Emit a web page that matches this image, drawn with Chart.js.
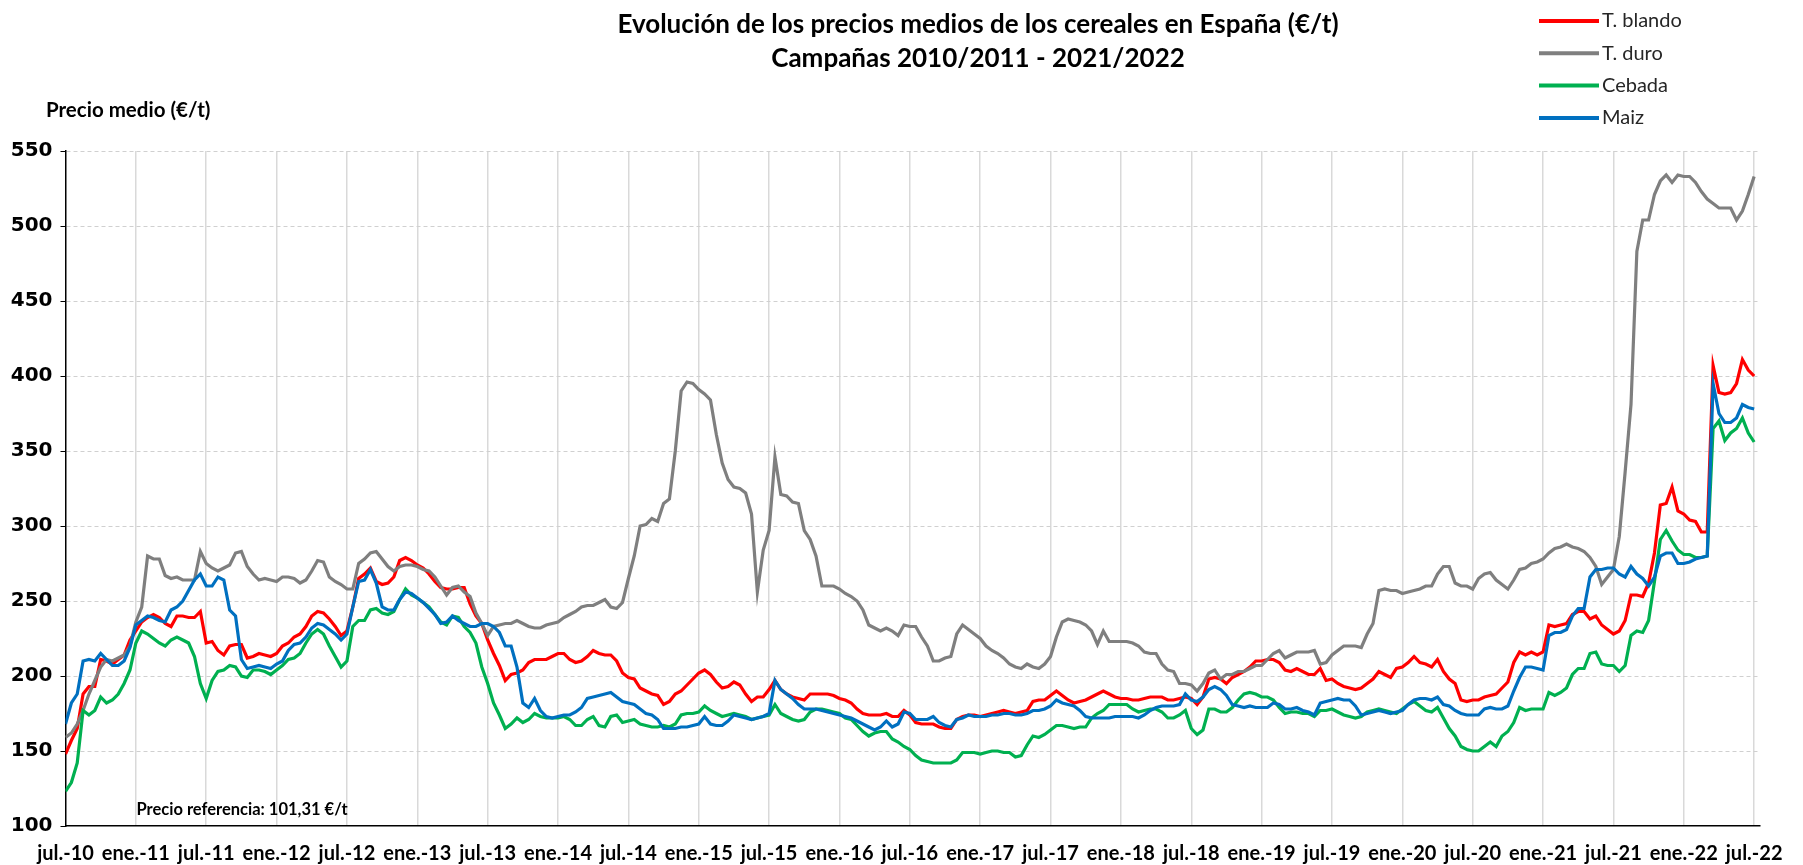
<!DOCTYPE html>
<html>
<head>
<meta charset="utf-8">
<script src="https://cdn.jsdelivr.net/npm/chart.js"></script>
<style>
  body { margin: 0; background: #fff; }
  #caja { width: 1803px; height: 865px; position: relative; }
</style>
</head>
<body>
<div id="caja"><canvas id="grafico"></canvas></div>
<script>
// etiquetas del eje x, una cada 6 meses (jul.-10 ... jul.-22)
const etiquetas = ['jul.-10','ene.-11','jul.-11','ene.-12','jul.-12','ene.-13','jul.-13','ene.-14','jul.-14',
  'ene.-15','jul.-15','ene.-16','jul.-16','ene.-17','jul.-17','ene.-18','jul.-18','ene.-19','jul.-19',
  'ene.-20','jul.-20','ene.-21','jul.-21','ene.-22','jul.-22'];

// precios leidos cada medio mes desde jul.-10 (€/t)
const tBlando = [
  148,157,165,188,193,193,211,210,208,211,214,224,
  230,236,239,241,239,235,233,240,240,239,239,243,
  222,223,217,214,220,221,221,212,213,215,214,213,
  215,220,222,226,228,233,240,243,242,238,233,227,
  230,
  246,265,268,272,263,261,262,266,277,279,277,
  274,272,268,263,259,258,258,259,259,248,240,235,
  224,215,207,197,201,202,204,209,211,211,211,213,
  215,215,211,209,210,213,217,215,214,214,210,202,
  199,
  198,192,190,188,187,181,183,188,190,194,198,
  202,204,201,196,192,193,196,194,188,183,186,186,
  191,197,191,188,186,185,184,188,188,188,188,187,
  185,184,182,178,175,174,174,174,175,173,173,177,
  174,
  169,168,168,168,166,165,165,171,173,174,174,
  173,174,175,176,177,176,175,176,177,183,184,184,
  187,190,187,184,182,183,184,186,188,190,188,186,
  185,185,184,184,185,186,186,186,184,184,185,186,
  185,
  181,186,198,199,198,195,199,201,203,206,210,
  210,211,211,209,204,203,205,203,201,201,205,197,
  198,195,193,192,191,192,195,198,203,201,199,205,
  206,209,213,209,208,206,211,203,198,195,184,183,
  184,
  184,186,187,188,192,196,209,216,214,216,214,
  216,234,233,234,235,241,243,243,238,240,234,231,
  228,230,237,254,254,253,262,282,314,315,326,310,
  308,304,303,296,296,407,389,388,389,395,411,404,
  400
];

const tDuro = [
  159,162,168,177,188,197,206,211,210,212,214,220,
  236,246,280,278,278,267,265,266,264,264,264,283,
  275,272,270,272,274,282,283,273,268,264,265,264,
  263,266,266,265,262,264,270,277,276,266,263,261,
  258,
  258,275,278,282,283,278,273,270,273,274,274,
  273,271,270,266,260,254,259,260,256,253,242,235,
  227,233,234,235,235,237,235,233,232,232,234,235,
  236,239,241,243,246,247,247,249,251,246,245,249,
  265,
  280,300,301,305,303,315,318,350,390,396,395,
  391,388,384,361,342,331,326,325,322,308,256,284,
  297,346,321,320,316,315,297,291,280,260,260,260,
  258,255,253,250,244,234,232,230,232,230,227,234,
  233,
  233,226,220,210,210,212,213,228,234,231,228,
  225,220,217,215,212,208,206,205,208,206,205,208,
  213,226,236,238,237,236,234,230,221,230,223,223,
  223,223,222,220,216,215,215,208,204,203,195,195,
  194,
  190,195,202,204,198,201,201,203,203,205,207,
  207,211,215,217,212,214,216,216,216,217,208,209,
  214,217,220,220,220,219,228,235,257,258,257,257,
  255,256,257,258,260,260,268,273,273,262,260,260,
  258,
  265,268,269,264,261,258,264,271,272,275,276,
  278,282,285,286,288,286,285,283,279,273,261,266,
  271,293,336,381,483,504,504,521,530,534,529,534,
  533,533,529,523,518,515,512,512,512,504,510,521,
  533
];

const cebada = [
  123,129,142,177,174,177,186,182,184,188,195,204,
  222,230,228,225,222,220,224,226,224,222,213,195,
  185,197,203,204,207,206,200,199,204,204,203,201,
  204,207,211,212,215,222,228,231,228,220,213,206,
  210,
  233,237,237,244,245,242,241,243,251,258,254,
  252,249,246,241,236,234,240,239,233,229,222,206,
  195,182,174,165,168,172,169,171,175,173,172,172,
  172,173,171,167,167,171,173,167,166,173,174,169,
  170,
  171,168,167,166,166,167,166,168,174,175,175,
  176,180,177,175,173,174,175,174,173,171,172,173,
  174,181,175,173,171,170,171,176,178,178,177,176,
  175,172,171,167,163,160,162,163,163,158,156,153,
  151,
  147,144,143,142,142,142,142,144,149,149,149,
  148,149,150,150,149,149,146,147,154,160,159,161,
  164,167,167,166,165,166,166,172,175,177,181,181,
  181,181,178,176,177,178,178,176,172,172,174,177,
  165,
  161,164,178,178,176,176,179,184,188,189,188,
  186,186,184,179,175,176,176,175,175,173,177,177,
  178,176,174,173,172,173,176,177,178,177,176,175,
  178,181,183,180,177,176,179,172,165,160,153,151,
  150,
  150,153,156,153,160,163,169,179,177,178,178,
  178,189,187,189,192,201,205,205,215,216,208,207,
  207,203,207,227,230,229,237,263,291,297,290,284,
  281,281,279,279,280,365,370,357,362,365,372,362,
  356
];

const maiz = [
  168,182,188,210,211,210,215,211,207,207,210,219,
  234,237,240,239,237,236,244,246,250,257,264,268,
  260,260,266,264,244,240,211,205,206,207,206,205,
  208,210,217,221,222,226,232,235,234,231,228,224,
  228,
  246,263,264,271,262,246,244,244,251,256,255,
  252,249,245,241,235,236,240,237,235,233,233,235,
  235,233,229,220,220,206,182,179,185,177,173,172,
  173,174,174,176,179,185,186,187,188,189,186,183,
  182,
  181,178,175,174,171,165,165,165,166,166,167,
  168,173,168,167,167,170,174,173,172,171,172,173,
  175,197,191,188,185,181,178,178,178,177,176,175,
  174,173,172,170,168,166,164,166,170,166,168,176,
  175,
  171,171,171,173,169,167,166,171,172,174,173,
  173,173,174,174,175,175,174,174,175,177,177,178,
  180,184,182,181,180,177,173,172,172,172,172,173,
  173,173,173,172,174,177,179,180,180,180,181,188,
  184,
  183,186,191,193,191,187,181,180,179,180,179,
  179,179,182,181,178,178,179,177,176,174,182,183,
  184,185,184,184,180,174,175,176,177,176,175,176,
  177,181,184,185,185,184,186,181,180,177,175,174,
  174,
  174,178,179,178,178,180,190,199,206,206,205,
  204,227,229,229,231,240,245,245,266,271,271,272,
  272,268,266,273,268,265,260,266,280,282,282,275,
  275,276,278,279,280,395,375,369,369,372,381,379,
  378
];

const titulo = ['Evolución de los precios medios de los cereales en España (€/t)', 'Campañas 2010/2011 - 2021/2022'];
const tituloEje = 'Precio medio (€/t)';
const notaReferencia = 'Precio referencia: 101,31 €/t';

const letra = "Lato, 'Open Sans', sans-serif";

// cada valor es medio mes
function puntos(valores) {
  return valores.map((v, i) => ({ x: i * 0.5, y: v }));
}

const textos = {
  id: 'textos',
  afterDraw(chart) {
    const ctx = chart.ctx;
    const area = chart.chartArea;
    ctx.save();
    ctx.fillStyle = '#000';
    ctx.textBaseline = 'middle';

    ctx.textAlign = 'center';
    ctx.font = 'bold 26px ' + letra;
    ctx.fillText(titulo[0], 978, 25);
    ctx.fillText(titulo[1], 978, 59);

    ctx.textAlign = 'left';
    ctx.font = 'bold 20.5px ' + letra;
    ctx.fillText(tituloEje, 46, 110);
    ctx.font = 'bold 16.5px ' + letra;
    ctx.fillText(notaReferencia, area.left + 71, area.bottom - 16);

    // leyenda
    ctx.font = '20px ' + letra;
    chart.data.datasets.forEach((ds, i) => {
      const y = 21 + i * 32.3;
      ctx.strokeStyle = ds.borderColor;
      ctx.lineWidth = 4;
      ctx.beginPath();
      ctx.moveTo(1539, y);
      ctx.lineTo(1599, y);
      ctx.stroke();
      ctx.fillStyle = '#262626';
      ctx.fillText(ds.label, 1602, y);
    });
    ctx.restore();
  }
};

new Chart(document.getElementById('grafico'), {
  type: 'line',
  data: {
    datasets: [
      { label: 'T. blando', data: puntos(tBlando), borderColor: '#ff0000', order: 4 },
      { label: 'T. duro', data: puntos(tDuro), borderColor: '#7f7f7f', order: 3 },
      { label: 'Cebada', data: puntos(cebada), borderColor: '#00b050', order: 2 },
      { label: 'Maiz', data: puntos(maiz), borderColor: '#0070c0', order: 1 }
    ]
  },
  options: {
    responsive: true,
    maintainAspectRatio: false,
    animation: false,
    layout: { padding: { top: 151, right: 43, left: 0, bottom: 0 } },
    elements: {
      point: { radius: 0 },
      line: { borderWidth: 3.2, tension: 0 }
    },
    plugins: {
      legend: { display: false },
      title: { display: false },
      tooltip: { enabled: false }
    },
    scales: {
      x: {
        type: 'linear',
        min: 0,
        max: 144.5,
        afterFit(s) { s.height = 39; },
        // una marca cada 6 meses
        afterBuildTicks(s) { s.ticks = etiquetas.map((e, i) => ({ value: i * 6 })); },
        ticks: {
          autoSkip: false,
          maxRotation: 0,
          padding: 16,
          color: '#000',
          font: { family: letra, weight: 'bold', size: 20 },
          callback: (v) => etiquetas[v / 6]
        },
        grid: {
          drawTicks: false,
          lineWidth: 1.5,
          color: (c) => (c.tick && c.tick.value === 0 ? 'rgba(0,0,0,0)' : '#d9d9d9')
        },
        border: { color: '#000', width: 1.5 }
      },
      y: {
        min: 100,
        max: 550,
        afterFit(s) { s.width = 65.5; },
        ticks: {
          stepSize: 50,
          padding: 8,
          color: '#000',
          font: { family: "'DejaVu Sans', sans-serif", weight: 'bold', size: 20 }
        },
        grid: {
          tickLength: 5,
          tickColor: '#000',
          tickBorderDash: [],
          lineWidth: 1,
          color: (c) => (c.tick && c.tick.value === 100 ? 'rgba(0,0,0,0)' : '#d0d0d0')
        },
        border: { color: '#000', width: 1.5, dash: [4, 3] }
      }
    }
  },
  plugins: [textos]
});
</script>
</body>
</html>
